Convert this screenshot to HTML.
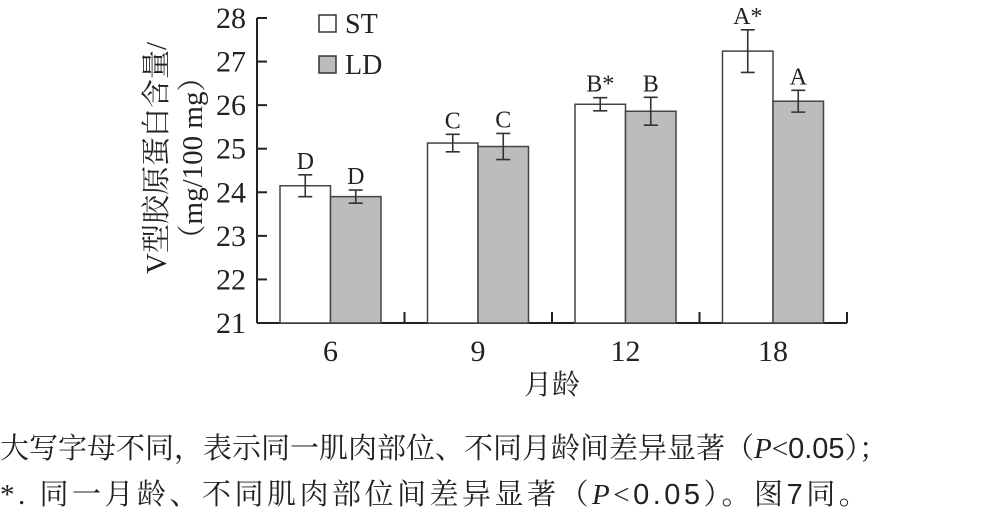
<!DOCTYPE html>
<html><head><meta charset="utf-8"><style>
body{margin:0;background:#fff;width:982px;height:523px;overflow:hidden}
.cap{position:absolute;left:0;font-family:"Liberation Serif","Noto Serif CJK SC","Noto Sans CJK SC",serif;font-size:29px;color:#222;white-space:nowrap}
</style></head><body>
<svg id="chart" width="982" height="410" style="position:absolute;left:0;top:0" font-family="Liberation Serif, Noto Serif CJK SC, serif"></svg>
<div class="cap" style="top:426px;letter-spacing:0px">大写字母不同，表示同一肌肉部位、不同月龄间差异显著（<i>P</i>&lt;<span style="font-family:'Liberation Sans',sans-serif">0.05</span>）；</div>
<div class="cap" style="top:472px;letter-spacing:3.5px">*. 同一月龄、不同肌肉部位间差异显著（<i>P</i>&lt;<span style="font-family:'Liberation Sans',sans-serif">0.05</span>）。图<span style="font-family:'Liberation Sans',sans-serif">7</span>同。</div>
<script>
const categories=["6","9","12","18"];
const stValues=[24.15,25.13,26.02,27.24];
const ldValues=[23.9,25.05,25.86,26.09];
const stErr=[0.25,0.2,0.15,0.49];
const ldErr=[0.15,0.3,0.32,0.25];
const stLabels=["D","C","B*","A*"];
const ldLabels=["D","C","B","A"];
const yTicks=[21,22,23,24,25,26,27,28];
const NS="http://www.w3.org/2000/svg";
const svg=document.getElementById('chart');
const x0=257,catW=147.5,y0=323,yMin=21,yMax=28,yTop=18;
const y=v=>y0-(v-yMin)/(yMax-yMin)*(y0-yTop);
const cx=i=>x0+catW*i;
function mk(t,a,txt){const e=document.createElementNS(NS,t);for(const k in a)e.setAttribute(k,a[k]);if(txt!==undefined)e.textContent=txt;svg.appendChild(e);return e;}
let e;
e=mk('line',{x1:x0,y1:y0,x2:x0,y2:yTop,stroke:'#222','stroke-width':2});

e=mk('line',{x1:x0,y1:y0,x2:cx(4),y2:y0,stroke:'#222','stroke-width':2});

yTicks.forEach(t=>{
 e=mk('line',{x1:x0,y1:y(t),x2:x0+10,y2:y(t),stroke:'#222','stroke-width':2});
 
 e=mk('text',{x:246,y:y(t)+10,'text-anchor':'end','font-size':30,fill:'#222'},t);
 
});
for(let i=1;i<=4;i++){e=mk('line',{x1:cx(i),y1:y0,x2:cx(i),y2:y0-11,stroke:'#222','stroke-width':2});
 }
categories.forEach((c,i)=>{
 const bx=cx(i)+23,bw=50.5;
 [[stValues,stErr,stLabels,'#fff','st'],[ldValues,ldErr,ldLabels,'#bdbbbc','ld']].forEach((s,j)=>{
  const v=s[0][i],er=s[1][i],xx=bx+j*bw;
  e=mk('rect',{x:xx,y:y(v),width:bw,height:y0-y(v),fill:s[3],stroke:'#444','stroke-width':1.5});
  
  const mx=xx+bw/2;
  e=mk('path',{d:`M${mx},${y(v+er)}V${y(v-er)}M${mx-7},${y(v+er)}H${mx+7}M${mx-7},${y(v-er)}H${mx+7}`,stroke:'#333','stroke-width':1.6,fill:'none'});
  
  e=mk('text',{x:mx,y:y(v+er)-6,'text-anchor':'middle','font-size':24,fill:'#222'},s[2][i]);
  
 });
 e=mk('text',{x:bx+bw,y:361,'text-anchor':'middle','font-size':30,fill:'#222'},c);
 
});
e=mk('text',{x:552,y:394,'text-anchor':'middle','font-size':28,fill:'#222'},'月龄');

const g=mk('g',{transform:'translate(166,158) rotate(-90)'});

const t1=document.createElementNS(NS,'text');t1.setAttribute('x',0);t1.setAttribute('y',0);t1.setAttribute('text-anchor','middle');t1.setAttribute('font-size',29);t1.setAttribute('fill','#222');t1.textContent='V型胶原蛋白含量/';g.appendChild(t1);
const t2=document.createElementNS(NS,'text');t2.setAttribute('x',0);t2.setAttribute('y',36);t2.setAttribute('text-anchor','middle');t2.setAttribute('font-size',29);t2.setAttribute('fill','#222');t2.textContent='（mg/100 mg）';g.appendChild(t2);
[['ST','#fff',15],['LD','#bdbbbc',56]].forEach(l=>{
 e=mk('rect',{x:319,y:l[2],width:17,height:17,fill:l[1],stroke:'#333','stroke-width':1.5});
 
 e=mk('text',{x:345,y:l[2]+18,'font-size':28,fill:'#222'},l[0]);
 
});
</script>
</body></html>
